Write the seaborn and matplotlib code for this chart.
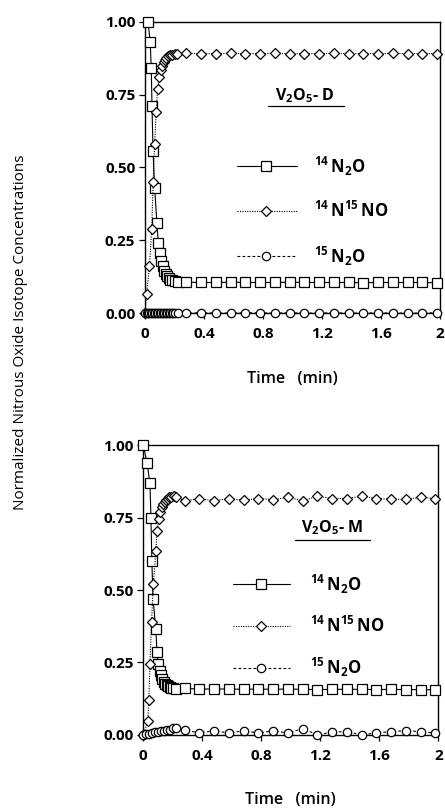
import numpy as np
import pandas as pd
import matplotlib
matplotlib.use("Agg")
import matplotlib.pyplot as plt
from matplotlib.lines import Line2D
import seaborn as sns

# ---------------- data ----------------
# common sampling of the steady-state part (min)
t_late = [0.28, 0.38, 0.48, 0.58, 0.68, 0.78, 0.88, 0.98, 1.08, 1.18,
          1.28, 1.38, 1.48, 1.58, 1.68, 1.78, 1.88, 1.98]

# V2O5-D
d_t_1414 = [0.02, 0.035, 0.042, 0.047, 0.054, 0.065, 0.08, 0.09, 0.10, 0.11,
            0.12, 0.13, 0.14, 0.15, 0.16, 0.17, 0.18, 0.20, 0.22]
d_v_1414 = [1.00, 0.93, 0.84, 0.71, 0.555, 0.43, 0.31, 0.24, 0.205, 0.18,
            0.16, 0.145, 0.135, 0.127, 0.12, 0.115, 0.112, 0.11, 0.108]
d_v_1414_late = [0.106, 0.105, 0.105, 0.106, 0.105, 0.105, 0.105, 0.106, 0.105,
                 0.105, 0.105, 0.105, 0.104, 0.105, 0.105, 0.105, 0.105, 0.104]

d_t_1415 = [0.0, 0.01, 0.03, 0.045, 0.055, 0.065, 0.075, 0.085, 0.095, 0.105,
            0.115, 0.125, 0.135, 0.145, 0.155, 0.17, 0.185, 0.20, 0.215]
d_v_1415 = [0.0, 0.065, 0.16, 0.29, 0.45, 0.58, 0.69, 0.77, 0.81, 0.835,
            0.85, 0.862, 0.87, 0.877, 0.882, 0.886, 0.888, 0.89, 0.891]
d_v_1415_late = [0.892, 0.891, 0.891, 0.892, 0.891, 0.891, 0.892, 0.891, 0.891,
                 0.891, 0.892, 0.891, 0.891, 0.891, 0.892, 0.891, 0.891, 0.891]

d_t_1515 = [0.0, 0.01, 0.02, 0.03, 0.04, 0.05, 0.06, 0.07, 0.08, 0.09, 0.10,
            0.11, 0.12, 0.13, 0.14, 0.15, 0.16, 0.17, 0.18, 0.19, 0.20, 0.22]
d_v_1515 = [0.0, 0.0, 0.001, 0.0, 0.001, 0.0, 0.001, 0.0, 0.001, 0.0, 0.001,
            0.0, 0.001, 0.0, 0.001, 0.0, 0.001, 0.0, 0.001, 0.0, 0.0, 0.0]
d_v_1515_late = [0.0, 0.001, 0.0, 0.0, 0.001, 0.0, 0.0, 0.001, 0.0,
                 0.0, 0.001, 0.0, 0.0, 0.001, 0.0, 0.0, 0.0, 0.001]

# V2O5-M
m_t_1414 = [0.0, 0.025, 0.045, 0.052, 0.058, 0.066, 0.085, 0.093, 0.10, 0.11,
            0.12, 0.13, 0.14, 0.15, 0.16, 0.17, 0.18, 0.19, 0.20, 0.22]
m_v_1414 = [1.00, 0.94, 0.87, 0.75, 0.60, 0.47, 0.365, 0.285, 0.245, 0.22,
            0.205, 0.193, 0.183, 0.176, 0.171, 0.167, 0.164, 0.162, 0.16, 0.158]
m_v_1414_late = [0.16, 0.158, 0.158, 0.158, 0.157, 0.158, 0.157, 0.158, 0.157,
                 0.156, 0.157, 0.157, 0.157, 0.156, 0.157, 0.156, 0.156, 0.155]

m_t_1415 = [0.0, 0.03, 0.038, 0.045, 0.056, 0.068, 0.085, 0.094, 0.105, 0.115,
            0.125, 0.135, 0.145, 0.155, 0.165, 0.175, 0.19, 0.205, 0.22]
m_v_1415 = [0.0, 0.046, 0.12, 0.245, 0.39, 0.52, 0.635, 0.705, 0.745, 0.77,
            0.785, 0.797, 0.805, 0.81, 0.815, 0.82, 0.822, 0.824, 0.82]
m_v_1415_late = [0.808, 0.816, 0.808, 0.816, 0.81, 0.816, 0.812, 0.82, 0.808,
                 0.824, 0.816, 0.816, 0.824, 0.816, 0.813, 0.813, 0.82, 0.816]

m_t_1515 = [0.0, 0.02, 0.04, 0.06, 0.08, 0.10, 0.12, 0.14, 0.16, 0.18, 0.20, 0.22]
m_v_1515 = [0.0, 0.002, 0.004, 0.006, 0.008, 0.01, 0.012, 0.014, 0.016, 0.018,
            0.022, 0.024]
m_v_1515_late = [0.017, 0.006, 0.014, 0.006, 0.014, 0.006, 0.014, 0.006, 0.021,
                 0.0, 0.009, 0.011, 0.0, 0.006, 0.011, 0.014, 0.011, 0.006]

species = ["14N2O", "14N15NO", "15N2O"]
species_labels = [r"$\mathregular{^{14}\,N_2O}$",
                  r"$\mathregular{^{14}\,N^{15}\,NO}$",
                  r"$\mathregular{^{15}\,N_2O}$"]
catalysts = [r"$\mathregular{V_2O_5}$- D", r"$\mathregular{V_2O_5}$- M"]
x_ticks = [0, 0.4, 0.8, 1.2, 1.6, 2]
x_tick_labels = ["0", "0.4", "0.8", "1.2", "1.6", "2"]
y_ticks = [0.0, 0.25, 0.50, 0.75, 1.00]
y_tick_labels = ["0.00", "0.25", "0.50", "0.75", "1.00"]


def long_frame(series):
    rows = []
    for name, t, v in series:
        for ti, vi in zip(t, v):
            rows.append({"time": ti, "value": vi, "species": name})
    return pd.DataFrame(rows)


df_d = long_frame([
    ("14N2O", d_t_1414 + t_late, d_v_1414 + d_v_1414_late),
    ("14N15NO", d_t_1415 + t_late, d_v_1415 + d_v_1415_late),
    ("15N2O", d_t_1515 + t_late, d_v_1515 + d_v_1515_late),
])
df_m = long_frame([
    ("14N2O", m_t_1414 + t_late, m_v_1414 + m_v_1414_late),
    ("14N15NO", m_t_1415 + t_late, m_v_1415 + m_v_1415_late),
    ("15N2O", m_t_1515 + t_late, m_v_1515 + m_v_1515_late),
])

# ---------------- style ----------------
sns.set_style("ticks")
plt.rcParams["font.family"] = ["Open Sans", "DejaVu Sans"]
plt.rcParams["mathtext.fontset"] = "custom"
plt.rcParams["mathtext.rm"] = "Open Sans"
plt.rcParams["axes.edgecolor"] = "black"
plt.rcParams["axes.linewidth"] = 1.0
plt.rcParams["text.color"] = "black"
plt.rcParams["axes.labelcolor"] = "black"
plt.rcParams["xtick.color"] = "black"
plt.rcParams["ytick.color"] = "black"

markers = {"14N2O": "s", "14N15NO": "D", "15N2O": "o"}
dashes = {"14N2O": "", "14N15NO": (1, 1.2), "15N2O": (2.5, 2)}
msize = {"s": 7, "D": 5, "o": 6}

fig = plt.figure(figsize=(4.45, 8.11), dpi=100)
ax_top = fig.add_axes([0.326, 0.614, 0.663, 0.359])
ax_bot = fig.add_axes([0.322, 0.094, 0.663, 0.357])

legend_cfg = [
    # title xy, underline (x0, x1, y), line x0/x1, marker x, rows y, label x
    dict(title=(0.54, 0.748), ul=(0.415, 0.675, 0.712), lx=(0.31, 0.515),
         mx=0.41, ys=(0.504, 0.35, 0.195), tx=0.571),
    dict(title=(0.64, 0.714), ul=(0.514, 0.768, 0.672), lx=(0.304, 0.497),
         mx=0.40, ys=(0.52, 0.376, 0.231), tx=0.565),
]

for ax, df, cat, cfg in zip([ax_top, ax_bot], [df_d, df_m], catalysts, legend_cfg):
    sns.lineplot(data=df, x="time", y="value", style="species",
                 style_order=species, markers=markers, dashes=dashes,
                 color="black", linewidth=0.8, sort=False, estimator=None,
                 legend=False, ax=ax, clip_on=False, zorder=3)
    for line in ax.lines:
        m = line.get_marker()
        line.set_markerfacecolor("white")
        line.set_markeredgecolor("black")
        line.set_markeredgewidth(0.9)
        line.set_markersize(msize.get(m, 6))

    ax.set_xlim(0, 2)
    ax.set_ylim(0, 1.0)
    ax.set_xticks(x_ticks)
    ax.set_xticklabels(x_tick_labels)
    ax.set_yticks(y_ticks)
    ax.set_yticklabels(y_tick_labels)
    ax.tick_params(axis="both", direction="out", length=4, width=0.9,
                   labelsize=11, colors="black", pad=3)
    ax.tick_params(axis="x", pad=6)
    for lab in ax.get_xticklabels() + ax.get_yticklabels():
        lab.set_fontweight("bold")
    for sp in ax.spines.values():
        sp.set_visible(True)
        sp.set_linewidth(1.0)
        sp.set_color("black")
    ax.set_xlabel("Time   (min)", fontsize=11.5, fontweight="semibold",
                  color="black")
    ax.set_ylabel("")
    ax.xaxis.label.set_va("center")
    ax.xaxis.set_label_coords(0.5, -0.225)

    # legend block inside the axes
    ax.text(cfg["title"][0], cfg["title"][1], cat, transform=ax.transAxes,
            ha="center", va="center", fontsize=11.5, fontweight="bold",
            color="black")
    x0, x1, yu = cfg["ul"]
    ax.add_line(Line2D([x0, x1], [yu, yu], transform=ax.transAxes,
                       color="black", linewidth=0.9))
    for sp_name, y, lab in zip(species, cfg["ys"], species_labels):
        mk = markers[sp_name]
        ls = "-" if dashes[sp_name] == "" else (0, dashes[sp_name])
        ax.add_line(Line2D(cfg["lx"], [y, y], transform=ax.transAxes,
                           color="black", linewidth=0.8, linestyle=ls))
        ax.add_line(Line2D([cfg["mx"]], [y], transform=ax.transAxes,
                           marker=mk, markersize=msize[mk],
                           markerfacecolor="white", markeredgecolor="black",
                           markeredgewidth=0.9, linestyle="none"))
        ax.text(cfg["tx"], y, lab, transform=ax.transAxes, ha="left",
                va="center", fontsize=12, fontweight="bold", color="black")

fig.text(0.045, 0.59, "Normalized Nitrous Oxide Isotope Concentrations",
         rotation=90, ha="center", va="center", fontsize=11, color="black")

fig.savefig("out.png", dpi=100)
